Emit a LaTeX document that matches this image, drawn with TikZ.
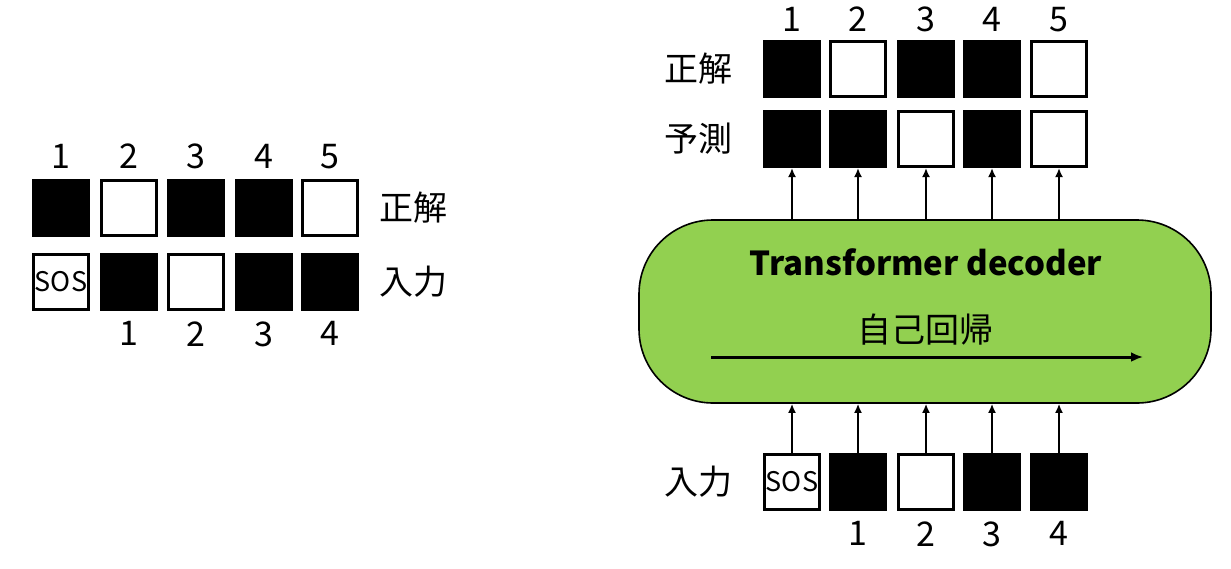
\documentclass[tikz,border=0pt]{standalone}
\usepackage{fontspec}
\setmainfont{Noto Sans CJK JP}
\usepackage{xcolor}
\usetikzlibrary{positioning, arrows.meta, shapes}

\definecolor{decgreen}{HTML}{92D050}

\tikzset{
  blk/.style={draw=black, fill=black, line width=1.5pt, minimum size=27.5pt, inner sep=0pt},
  wht/.style={draw=black, fill=white, line width=1.5pt, minimum size=27.5pt, inner sep=0pt},
  lbl/.style={font=\fontsize{17}{20}\selectfont, inner sep=0pt},
  sos/.style={font=\fontsize{13.5}{16}\selectfont},
  tip/.style={-{Latex[length=4.5pt,width=4pt]}, line width=1.2pt}
}

\begin{document}
\begin{tikzpicture}[x=0.5pt,y=-0.5pt]
    \useasboundingbox (0,0) rectangle (1231,568);

    % Left: ground truth row
    \foreach \i/\x/\c in {1/61/blk,2/129/wht,3/196/blk,4/264/blk,5/330/wht}{
        \node[\c] (lt\i) at (\x,208) {};
        \node[lbl, above=5pt of lt\i] {\i};
    }
    \node[lbl, right=10pt of lt5] (ltlab) {正解};

    % Left: input row
    \node[wht, sos] (li0) at (61,282) {SOS};
    \foreach \i/\x/\c in {1/129/blk,2/196/wht,3/264/blk,4/330/blk}{
        \node[\c] (li\i) at (\x,282) {};
        \node[lbl, below=5pt of li\i] {\i};
    }
    \node[lbl, right=10pt of li4] (lilab) {入力};

    % Right: ground truth and prediction rows
    \foreach \i/\x/\c/\d in {1/792/blk/blk,2/858/wht/blk,3/926/blk/wht,4/992/blk/blk,5/1059/wht/wht}{
        \node[\c] (rt\i) at (\x,69) {};
        \node[lbl, above=4pt of rt\i] {\i};
        \node[\d] (rp\i) at (\x,139) {};
    }
    \node[lbl, left=15pt of rt1] (rtlab) {正解};
    \node[lbl, left=15pt of rp1] (rplab) {予測};

    % Decoder block
    \node[draw=black, line width=0.8pt, fill=decgreen, rounded corners=37pt,
          minimum width=286pt, minimum height=91.5pt] (dec) at (925,311.5) {};
    \node[font=\bfseries\fontsize{16.5}{20}\selectfont, inner sep=0pt] (dectitle) at (926,262) {Transformer decoder};
    \node[lbl] (ar) at (925,330) {自己回帰};
    \coordinate (ar0) at (711,357);
    \coordinate (ar1) at (1143,357);
    \draw[-{Latex[length=6pt,width=5pt]}, line width=1.5pt] (ar0) -- (ar1);

    % Right: input row
    \node[wht, sos] (ri0) at (792,482) {SOS};
    \foreach \i/\x/\c in {1/858/blk,2/926/wht,3/992/blk,4/1059/blk}{
        \node[\c] (ri\i) at (\x,482) {};
        \node[lbl, below=5pt of ri\i] {\i};
    }
    \node[lbl, left=15pt of ri0] (rilab) {入力};

    % Arrows into and out of the decoder
    \foreach \i in {1,...,5}{
        \draw[tip] (rp\i.south |- dec.north) -- (rp\i.south);
    }
    \foreach \i in {0,...,4}{
        \draw[tip] (ri\i.north) -- (ri\i.north |- dec.south);
    }

\end{tikzpicture}
\end{document}
